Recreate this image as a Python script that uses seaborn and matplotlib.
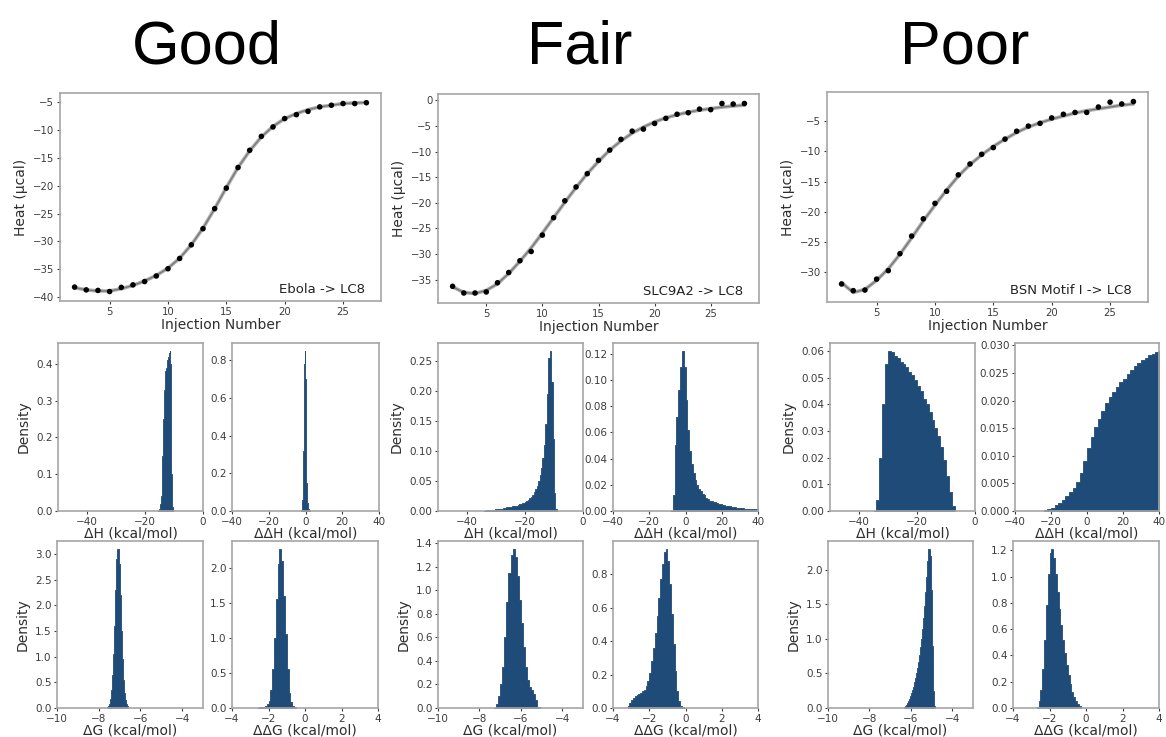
import numpy as np
import pandas as pd
import matplotlib
matplotlib.use("Agg")
import matplotlib.pyplot as plt
import seaborn as sns

# ---------------- data ----------------
COLUMN_TITLES = ["Good", "Fair", "Poor"]
SYSTEM_LABELS = ["Ebola -> LC8", "SLC9A2 -> LC8", "BSN Motif I -> LC8"]

EBOLA_INJ = list(range(2, 28))
EBOLA_HEAT = [-38.2, -38.7, -38.8, -39.0, -38.25, -37.8, -37.2, -36.2, -34.9, -33.05,
              -30.6, -27.7, -24.1, -20.4, -16.7, -13.6, -11.1, -9.4, -7.9, -7.2,
              -6.6, -5.8, -5.5, -5.2, -5.2, -5.05]
EBOLA_FIT = [-38.3, -38.7, -38.9, -38.9, -38.5, -37.9, -37.1, -36.1, -34.8, -33.0,
             -30.6, -27.6, -24.1, -20.3, -16.7, -13.7, -11.2, -9.3, -7.9, -7.0,
             -6.3, -5.8, -5.5, -5.2, -5.1, -5.0]

SLC_INJ = list(range(2, 29))
SLC_HEAT = [-36.3, -37.6, -37.6, -37.4, -35.6, -33.6, -31.3, -29.5, -26.3, -22.9,
            -19.6, -16.9, -14.3, -11.7, -9.7, -7.6, -6.0, -5.6, -4.5, -3.5,
            -2.7, -2.4, -1.7, -1.8, -0.6, -0.7, -0.6]
SLC_FIT = [-36.4, -37.5, -37.7, -37.1, -35.8, -33.8, -31.4, -28.8, -25.9, -22.9,
           -19.9, -17.0, -14.3, -11.9, -9.7, -7.9, -6.4, -5.2, -4.2, -3.4,
           -2.8, -2.3, -1.9, -1.6, -1.3, -1.1, -0.9]

BSN_INJ = list(range(2, 28))
BSN_HEAT = [-31.9, -33.0, -32.9, -31.1, -29.7, -26.9, -24.0, -21.15, -18.6, -16.6,
            -13.9, -12.1, -10.5, -9.4, -8.0, -6.7, -5.85, -5.4, -4.5, -3.9,
            -3.6, -3.6, -2.7, -1.9, -2.2, -1.8]
BSN_FIT = [-31.7, -33.3, -32.8, -31.3, -29.4, -27.0, -24.3, -21.5, -18.9, -16.4,
           -14.1, -12.2, -10.6, -9.2, -8.0, -6.9, -6.0, -5.3, -4.7, -4.2,
           -3.7, -3.3, -3.0, -2.7, -2.4, -2.2]

# histograms: (first bin edge, bin width, densities)
GOOD_DH_START, GOOD_DH_WIDTH = -15.5, 0.25
GOOD_DH = [0.0, 0.005, 0.01, 0.02, 0.04, 0.08, 0.15, 0.25, 0.33, 0.37,
           0.38, 0.39, 0.40, 0.41, 0.42, 0.43, 0.435, 0.40, 0.10, 0.01]
GOOD_DDH_START, GOOD_DDH_WIDTH = -2.5, 0.25
GOOD_DDH = [0.0, 0.005, 0.02, 0.06, 0.15, 0.32, 0.55, 0.78, 0.85, 0.70,
            0.48, 0.28, 0.15, 0.08, 0.04, 0.02, 0.01, 0.005, 0.002, 0.0]

FAIR_DH_START, FAIR_DH_WIDTH = -34.0, 0.5
FAIR_DH = [0.0, 0.001, 0.001, 0.001, 0.002, 0.002, 0.002, 0.003, 0.003, 0.003,
           0.004, 0.004, 0.004, 0.005, 0.005, 0.006, 0.006, 0.007, 0.007, 0.008,
           0.008, 0.009, 0.009, 0.010, 0.011, 0.012, 0.013, 0.014, 0.015, 0.017,
           0.019, 0.021, 0.024, 0.027, 0.031, 0.036, 0.042, 0.050, 0.060, 0.072,
           0.088, 0.110, 0.145, 0.195, 0.255, 0.266, 0.215, 0.120, 0.030, 0.004]
FAIR_DDH_START, FAIR_DDH_WIDTH = -8.0, 1.0
FAIR_DDH = [0.0, 0.012, 0.050, 0.072, 0.092, 0.110, 0.122, 0.110, 0.085, 0.062,
            0.046, 0.036, 0.029, 0.024, 0.020, 0.017, 0.015, 0.013, 0.012, 0.010,
            0.009, 0.008, 0.0075, 0.007, 0.0065, 0.006, 0.0055, 0.005, 0.0047, 0.0044,
            0.0041, 0.0038, 0.0035, 0.0032, 0.003, 0.0028, 0.0026, 0.0024, 0.0022, 0.002,
            0.0019, 0.0018, 0.0017, 0.0016, 0.0015, 0.0014, 0.0013, 0.0012]

POOR_DH_START, POOR_DH_WIDTH = -35.0, 1.0
POOR_DH = [0.0, 0.004, 0.020, 0.040, 0.055, 0.060, 0.0595, 0.058, 0.0575, 0.056,
           0.055, 0.054, 0.052, 0.051, 0.049, 0.047, 0.045, 0.042, 0.040, 0.037,
           0.034, 0.031, 0.028, 0.024, 0.019, 0.013, 0.007, 0.002]
POOR_DDH_START, POOR_DDH_WIDTH = -24.0, 2.0
POOR_DDH = [0.0001, 0.0003, 0.0006, 0.0010, 0.0014, 0.0020, 0.0027, 0.0034, 0.0042, 0.0052,
            0.0068, 0.0090, 0.0115, 0.0135, 0.0152, 0.0167, 0.0182, 0.0195, 0.0206, 0.0216,
            0.0225, 0.0233, 0.0240, 0.0248, 0.0255, 0.0262, 0.0268, 0.0273, 0.0278, 0.0282,
            0.0285, 0.0288, 0.0290]

GOOD_DG_START, GOOD_DG_WIDTH = -7.6, 0.05
GOOD_DG = [0.01, 0.03, 0.08, 0.18, 0.35, 0.65, 1.05, 1.60, 2.30, 2.90,
           3.10, 2.80, 2.20, 1.50, 0.95, 0.55, 0.30, 0.15, 0.07, 0.03]
GOOD_DDG_START, GOOD_DDG_WIDTH = -2.6, 0.1
GOOD_DDG = [0.005, 0.01, 0.015, 0.02, 0.03, 0.05, 0.10, 0.25, 0.55, 1.00,
            1.55, 2.05, 2.27, 2.10, 1.60, 1.05, 0.55, 0.22, 0.08, 0.03, 0.01]

FAIR_DG_START, FAIR_DG_WIDTH = -7.3, 0.1
FAIR_DG = [0.0, 0.03, 0.10, 0.20, 0.35, 0.60, 0.90, 1.15, 1.30, 1.35,
           1.28, 1.12, 0.92, 0.72, 0.52, 0.35, 0.24, 0.18, 0.15, 0.12, 0.07, 0.01]
FAIR_DDG_START, FAIR_DDG_WIDTH = -3.2, 0.1
FAIR_DDG = [0.01, 0.03, 0.05, 0.06, 0.07, 0.08, 0.085, 0.09, 0.10, 0.11,
            0.13, 0.16, 0.21, 0.28, 0.36, 0.45, 0.55, 0.66, 0.77, 0.86,
            0.93, 0.95, 0.88, 0.74, 0.56, 0.38, 0.22, 0.10, 0.04, 0.01, 0.003]

POOR_DG_START, POOR_DG_WIDTH = -6.35, 0.05
POOR_DG = [0.01, 0.03, 0.05, 0.07, 0.10, 0.13, 0.17, 0.21, 0.26, 0.31,
           0.37, 0.43, 0.50, 0.58, 0.67, 0.77, 0.88, 1.00, 1.14, 1.30,
           1.48, 1.68, 1.90, 2.12, 2.30, 2.20, 1.70, 0.90, 0.25, 0.03]
POOR_DDG_START, POOR_DDG_WIDTH = -2.7, 0.1
POOR_DDG = [0.01, 0.05, 0.14, 0.30, 0.52, 0.78, 1.02, 1.18, 1.21, 1.14,
            1.02, 0.88, 0.75, 0.63, 0.52, 0.42, 0.33, 0.25, 0.18, 0.12,
            0.08, 0.05, 0.03, 0.015]

# ---------------- style ----------------
sns.set_theme(style="white")
plt.rcParams["font.family"] = ["DejaVu Sans"]
SPINE = "#a6a6a6"
TICKC = "#3c3c3c"
HIST_COLOR = "#1f4b78"
plt.rcParams.update({
    "axes.edgecolor": SPINE,
    "axes.linewidth": 1.2,
    "xtick.color": TICKC,
    "ytick.color": TICKC,
    "xtick.labelcolor": TICKC,
    "ytick.labelcolor": TICKC,
    "axes.labelcolor": "#2e2e2e",
    "xtick.bottom": True,
    "ytick.left": True,
    "xtick.major.size": 2.5,
    "ytick.major.size": 2.5,
    "xtick.major.width": 0.8,
    "ytick.major.width": 0.8,
    "xtick.major.pad": 1.5,
    "ytick.major.pad": 1.5,
    "patch.edgecolor": HIST_COLOR,
})

W, H = 1166, 737
fig = plt.figure(figsize=(W / 100, H / 100), dpi=100)


def add_ax(l, t, r, b):
    return fig.add_axes([l / W, 1 - b / H, (r - l) / W, (b - t) / H])


# ---------------- titles ----------------
title_x = [207, 580, 965]
for tx, tt in zip(title_x, COLUMN_TITLES):
    fig.text(tx / W, 1 - 63 / H, tt, ha="center", va="baseline",
             fontsize=44, family=["Liberation Sans", "DejaVu Sans"], color="black")

# ---------------- ITC panels ----------------
itc_boxes = [(60, 93, 381, 301), (438, 94, 759, 303), (827, 92, 1148, 302)]
itc_data = [(EBOLA_INJ, EBOLA_HEAT, EBOLA_FIT),
            (SLC_INJ, SLC_HEAT, SLC_FIT),
            (BSN_INJ, BSN_HEAT, BSN_FIT)]
for box, (inj, heat, fit), lab in zip(itc_boxes, itc_data, SYSTEM_LABELS):
    ax = add_ax(*box)
    df = pd.DataFrame({"inj": inj, "heat": heat, "fit": fit})
    sns.lineplot(data=df, x="inj", y="fit", ax=ax, color="#9a9a9a", lw=2.6, alpha=0.8)
    sns.lineplot(data=df, x="inj", y="fit", ax=ax, color="#707070", lw=0.9, alpha=0.9)
    sns.scatterplot(data=df, x="inj", y="heat", ax=ax, color="black", s=16,
                    edgecolor="none", zorder=3)
    ax.set_xlabel("Injection Number", fontsize=10, labelpad=1)
    ax.set_ylabel("Heat (µcal)", fontsize=10, labelpad=4)
    ax.tick_params(labelsize=7.3)
    ax.text(0.95, 0.025, lab, transform=ax.transAxes, ha="right", va="bottom",
            fontsize=9.5, color="#222222")


# ---------------- histograms ----------------
def draw_hist(box, start, width, dens, xlim, xticks, xlabel, ylabel):
    ax = add_ax(*box)
    n = len(dens)
    edges = [start + width * i for i in range(n + 1)]
    centers = [start + width * (i + 0.5) for i in range(n)]
    df = pd.DataFrame({"x": centers, "w": [float(d) for d in dens]})
    sns.histplot(data=df, x="x", weights="w", bins=edges, stat="count",
                 element="step", fill=True, color=HIST_COLOR, alpha=1.0,
                 linewidth=0.6, edgecolor=HIST_COLOR, ax=ax)
    ax.set_xlim(*xlim)
    ax.set_xticks(xticks)
    ax.set_xlabel(xlabel, fontsize=10, labelpad=0)
    ax.set_ylabel(ylabel if ylabel else "", fontsize=10, labelpad=4)
    ax.tick_params(labelsize=7.5)
    return ax


DH_LIM, DDH_LIM = (-50, 0), (-40, 40)
DG_LIM, DDG_LIM = (-10, -3), (-4, 4)
DH_TICKS, DDH_TICKS = [-40, -20, 0], [-40, -20, 0, 20, 40]
DG_TICKS, DDG_TICKS = [-10, -8, -6, -4], [-4, -2, 0, 2, 4]
LBL_DH, LBL_DDH = "ΔH (kcal/mol)", "ΔΔH (kcal/mol)"
LBL_DG, LBL_DDG = "ΔG (kcal/mol)", "ΔΔG (kcal/mol)"

row2 = [
    ((58, 343, 203, 511), GOOD_DH_START, GOOD_DH_WIDTH, GOOD_DH, DH_LIM, DH_TICKS, LBL_DH, "Density"),
    ((232, 343, 379, 511), GOOD_DDH_START, GOOD_DDH_WIDTH, GOOD_DDH, DDH_LIM, DDH_TICKS, LBL_DDH, None),
    ((438, 343, 583, 511), FAIR_DH_START, FAIR_DH_WIDTH, FAIR_DH, DH_LIM, DH_TICKS, LBL_DH, "Density"),
    ((613, 343, 758, 511), FAIR_DDH_START, FAIR_DDH_WIDTH, FAIR_DDH, DDH_LIM, DDH_TICKS, LBL_DDH, None),
    ((830, 343, 975, 511), POOR_DH_START, POOR_DH_WIDTH, POOR_DH, DH_LIM, DH_TICKS, LBL_DH, "Density"),
    ((1015, 343, 1159, 511), POOR_DDH_START, POOR_DDH_WIDTH, POOR_DDH, DDH_LIM, DDH_TICKS, LBL_DDH, None),
]
row3 = [
    ((57, 541, 203, 708), GOOD_DG_START, GOOD_DG_WIDTH, GOOD_DG, DG_LIM, DG_TICKS, LBL_DG, "Density"),
    ((232, 541, 378, 708), GOOD_DDG_START, GOOD_DDG_WIDTH, GOOD_DDG, DDG_LIM, DDG_TICKS, LBL_DDG, None),
    ((438, 541, 583, 708), FAIR_DG_START, FAIR_DG_WIDTH, FAIR_DG, DG_LIM, DG_TICKS, LBL_DG, "Density"),
    ((613, 541, 758, 708), FAIR_DDG_START, FAIR_DDG_WIDTH, FAIR_DDG, DDG_LIM, DDG_TICKS, LBL_DDG, None),
    ((828, 541, 973, 708), POOR_DG_START, POOR_DG_WIDTH, POOR_DG, DG_LIM, DG_TICKS, LBL_DG, "Density"),
    ((1013, 541, 1159, 708), POOR_DDG_START, POOR_DDG_WIDTH, POOR_DDG, DDG_LIM, DDG_TICKS, LBL_DDG, None),
]
for spec in row2 + row3:
    draw_hist(*spec)

fig.savefig("out.png", dpi=100, facecolor="white")
